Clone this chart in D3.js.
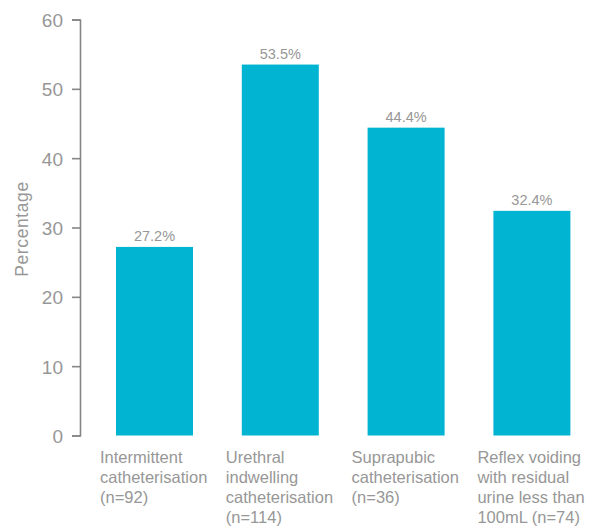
<!DOCTYPE html>
<html>
<head>
<meta charset="utf-8">
<script src="https://cdn.jsdelivr.net/npm/d3@7"></script>
<style>
  html, body { margin: 0; padding: 0; background: #fff; }
  text { font-family: "Liberation Sans", Arial, sans-serif; font-weight: 400; }
</style>
</head>
<body>
<svg id="chart" width="598" height="526"></svg>
<script>
const categories = [
  ["Intermittent", "catheterisation", "(n=92)"],
  ["Urethral", "indwelling", "catheterisation", "(n=114)"],
  ["Suprapubic", "catheterisation", "(n=36)"],
  ["Reflex voiding", "with residual", "urine less than", "100mL (n=74)"]
];
const values = [27.2, 53.5, 44.4, 32.4];
const valueLabels = ["27.2%", "53.5%", "44.4%", "32.4%"];
const yTicks = [0, 10, 20, 30, 40, 50, 60];

const svg = d3.select("#chart");
const grey = "#979797";
const axisGrey = "#858585";
const barColor = "#00b4d2";

const x = d3.scaleBand()
  .domain(d3.range(categories.length))
  .range([91.6, 594.8])
  .paddingInner(0.388)
  .paddingOuter(0.194);

const y = d3.scaleLinear().domain([0, 60]).range([435.5, 19.5]);

// Axis
const yAxis = d3.axisLeft(y).tickValues(yTicks).tickSize(8).tickPadding(9);
const gAxis = svg.append("g").attr("transform", "translate(80,0)").call(yAxis);
gAxis.select(".domain").attr("stroke", axisGrey).attr("stroke-width", 1.6);
gAxis.selectAll(".tick line").attr("stroke", axisGrey).attr("stroke-width", 1.6);
gAxis.selectAll(".tick text")
  .attr("fill", grey)
  .attr("dy", "0.36em")
  .style("font-size", "19px")
  .style("font-family", "'Liberation Sans', Arial, sans-serif");

// Y label
svg.append("text")
  .attr("transform", "translate(28,229) rotate(-90)")
  .attr("text-anchor", "middle")
  .attr("fill", grey)
  .style("font-size", "17.5px")
  .style("letter-spacing", "0.6px")
  .text("Percentage");

// Bars
svg.selectAll("rect.bar")
  .data(values)
  .enter().append("rect")
  .attr("class", "bar")
  .attr("x", (d, i) => x(i))
  .attr("width", x.bandwidth())
  .attr("y", d => y(d))
  .attr("height", d => y(0) - y(d))
  .attr("fill", barColor);

// Value labels
svg.selectAll("text.val")
  .data(values)
  .enter().append("text")
  .attr("class", "val")
  .attr("x", (d, i) => x(i) + x.bandwidth() / 2)
  .attr("y", d => y(d) - 6)
  .attr("text-anchor", "middle")
  .attr("fill", grey)
  .style("font-size", "14.5px")
  .text((d, i) => valueLabels[i]);

// Category labels
categories.forEach((lines, i) => {
  const t = svg.append("text")
    .attr("x", x(i) - 16)
    .attr("y", 463)
    .attr("fill", grey)
    .style("font-size", "16.5px");
  lines.forEach((ln, j) => {
    t.append("tspan")
      .attr("x", x(i) - 16)
      .attr("y", 463 + j * 20)
      .text(ln);
  });
});
</script>
</body>
</html>
